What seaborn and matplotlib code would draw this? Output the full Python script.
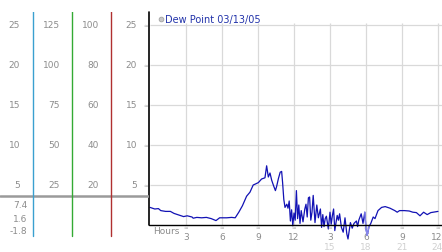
import matplotlib
matplotlib.use("Agg")
import matplotlib.pyplot as plt
import seaborn as sns
import numpy as np
import pandas as pd

# ---- data ----
hours = [0, 0.4, 0.7, 0.9, 1.3, 1.7, 2.0, 2.4, 2.8, 3.1, 3.5, 3.6, 3.9, 4.3, 4.7, 5.1, 5.5, 5.8,
         6.4, 6.8, 7.1, 7.4, 7.7, 8.05, 8.33, 8.6, 8.75, 9.03, 9.3, 9.58, 9.72, 9.86, 10.0, 10.14,
         10.3, 10.45, 10.55, 10.7, 10.85, 10.97, 11.05, 11.15, 11.25, 11.4, 11.5, 11.6, 11.7, 11.8,
         11.9, 12.0, 12.1, 12.2, 12.3, 12.4, 12.5, 12.6, 12.75, 12.9, 13.0, 13.1, 13.2, 13.3, 13.4,
         13.5, 13.6, 13.75, 13.9, 14.03, 14.2, 14.3, 14.4, 14.5, 14.6, 14.7, 14.86, 15.0, 15.1, 15.2,
         15.3, 15.4, 15.5, 15.6, 15.7, 15.8, 15.95, 16.1, 16.25, 16.4, 16.5, 16.7, 16.85, 17.0, 17.2,
         17.3, 17.4, 17.6, 17.75, 17.9, 18.0, 18.1, 18.25, 18.4, 18.5, 18.6, 18.75, 18.9, 19.0, 19.3,
         19.6, 20.0, 20.4, 20.6, 20.8, 21.2, 21.6, 21.9, 22.2, 22.5, 22.8, 23.1, 23.4, 23.8, 24.0]
dew_point = [2.2, 2.0, 2.05, 1.8, 1.7, 1.7, 1.45, 1.25, 1.05, 1.15, 1.0, 0.85, 0.95, 0.9, 0.95, 0.8,
             0.55, 0.9, 0.9, 0.95, 0.9, 1.6, 2.4, 3.6, 4.1, 5.0, 5.1, 5.3, 5.75, 5.9, 7.4, 6.0, 6.5,
             5.6, 4.9, 4.3, 4.8, 5.8, 6.6, 6.7, 5.3, 3.2, 2.2, 2.6, 2.1, 3.0, 0.5, 1.9, -0.1, 1.5,
             0.6, 4.3, 0.8, 2.5, 0.2, 1.8, 0.4, 2.0, 2.6, 1.0, 3.4, 3.5, 0.6, 1.6, 3.7, 0.3, 2.5,
             0.9, 2.0, -0.3, 1.3, -0.2, 0.8, 1.1, -0.5, 1.6, 0.1, 1.2, 2.0, -0.7, 0.3, 1.2, 0.6,
             1.4, -0.3, -0.9, 0.9, -1.1, -1.75, 0.3, -0.4, 0.2, 0.5, -0.2, 0.6, 1.4, 0.2, 1.6,
             -0.5, -1.3, -0.2, 0.2, 0.6, 1.0, 0.8, 1.4, 1.8, 2.2, 2.3, 2.1, 1.8, 1.6, 1.8, 1.8,
             1.75, 1.6, 1.55, 1.15, 1.6, 1.3, 1.55, 1.65, 1.7]
highlight_range = (17.9, 18.25)

x_ticks = [3, 6, 9, 12, 15, 18, 21, 24]
x_labels_top = ["3", "6", "9", "12", "3", "6", "9", "12"]
x_labels_bottom_ticks = [15, 18, 21, 24]
x_labels_bottom = ["15", "18", "21", "24"]
y_ticks = [5, 10, 15, 20, 25]
col1_labels = ["5", "10", "15", "20", "25"]
col2_labels = ["25", "50", "75", "100", "125"]
col3_labels = ["20", "40", "60", "80", "100"]
col4_labels = ["5", "10", "15", "20", "25"]
stat_labels = ["7.4", "1.6", "-1.8"]
legend_label = "Dew Point 03/13/05"

df = pd.DataFrame({"hour": hours, "dew": dew_point})

sns.set_style("white")
plt.rcParams['font.family'] = ['DejaVu Sans']

W, H = 442, 253
fig = plt.figure(figsize=(W / 100, H / 100), dpi=100)
fig.patch.set_facecolor("white")

ylo, yhi = -3.375, 26.625
ax_h = (yhi - ylo) * 8 / H
ax = fig.add_axes([149 / W, 0, (W - 149) / W, ax_h])
xmin = -1 / 12
xmax = xmin + (W - 149) / 12
ax.set_xlim(xmin, xmax)
ax.set_ylim(ylo, yhi)
for s in ax.spines.values():
    s.set_visible(False)
ax.set_xticks([])
ax.set_yticks([])

grid_c = "#d9d9d9"
ax.hlines(y_ticks, 0, xmax, colors=grid_c, lw=0.9, zorder=1)
ax.vlines(x_ticks, 0, 25.2, colors=grid_c, lw=0.9, zorder=1)

sns.lineplot(data=df, x="hour", y="dew", ax=ax, color="#1212b4", lw=0.9, zorder=3,
             legend=False)
hl = df[(df.hour >= highlight_range[0]) & (df.hour <= highlight_range[1])]
ax.plot(hl.hour, hl.dew, color="#8888ee", lw=1.0, zorder=4)
ax.set_xlabel("")
ax.set_ylabel("")
ax.set_xlim(xmin, xmax)
ax.set_ylim(ylo, yhi)

# axes lines
ax.plot([xmin, xmin], [0, 26.6], color="black", lw=1.2, zorder=5, clip_on=False)
ax.axhline(0, color="black", lw=1.0, zorder=5)

lab_c = "#8c8c8c"
mark_c = "#b0b0b0"
last = x_ticks[-1]
for t, lab in zip(x_ticks, x_labels_top):
    ax.text(t, -0.3, "≈", ha="center", va="center", fontsize=4, color=mark_c)
    if t == last:
        ax.text(t + 0.35, -1.4, lab, ha="right", va="center", fontsize=6.5, color=lab_c)
    else:
        ax.text(t, -1.4, lab, ha="center", va="center", fontsize=6.5, color=lab_c)
for t, lab in zip(x_labels_bottom_ticks, x_labels_bottom):
    if t == last:
        ax.text(t + 0.35, -2.65, lab, ha="right", va="center", fontsize=6.5, color="#d0d0d0")
    else:
        ax.text(t, -2.65, lab, ha="center", va="center", fontsize=6.5, color="#d0d0d0")
ax.text(0.25, -0.7, "Hours", ha="left", va="center", fontsize=6.5, color=lab_c)

for t in y_ticks:
    ax.text(-0.35, t, "≈", ha="center", va="center", fontsize=4, color=mark_c, clip_on=False)

# legend
ax.scatter([0.9], [25.75], s=12, color="#c8c8c8", edgecolor="#999999", lw=0.5, zorder=6)
ax.text(1.25, 25.75, legend_label, ha="left", va="center", fontsize=7, color="#2233aa")

# left panel
ax2 = fig.add_axes([0, 0, 149 / W, ax_h])
ax2.set_xlim(0, 149)
ax2.set_ylim(ylo, yhi)
ax2.axis("off")
for x, labels in zip([20, 60, 99, 137], [col1_labels, col2_labels, col3_labels, col4_labels]):
    for t, lab in zip(y_ticks, labels):
        ax2.text(x, t, lab, ha="right", va="center", fontsize=6.5, color=lab_c)
for x, c in zip([33, 72, 111], ["#3aa0d0", "#33aa33", "#b03030"]):
    ax2.plot([x, x], [-1.4, 26.75], color=c, lw=1.0)
ax2.plot([0, 149], [3.6, 3.6], color="#9a9a9a", lw=1.8, zorder=0)
for t, lab in zip([2.6, 0.85, -0.75], stat_labels):
    ax2.text(27, t, lab, ha="right", va="center", fontsize=6.5, color=lab_c)

fig.savefig("out.png", dpi=100)
